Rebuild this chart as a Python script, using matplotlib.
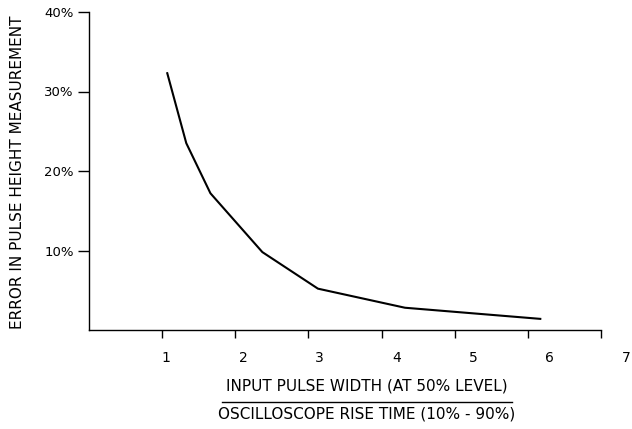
import matplotlib
matplotlib.use('Agg')
import matplotlib.pyplot as plt
import matplotlib.transforms as mtransforms
from matplotlib.lines import Line2D

# ratio of pulse width to scope rise time vs. error in measured height (%)
ratio = [1.07, 1.33, 1.66, 2.37, 3.13, 4.32, 6.17]
error_pct = [32.3, 23.5, 17.2, 9.8, 5.2, 2.8, 1.4]
x_ticks = [1, 2, 3, 4, 5, 6, 7]
y_ticks = [10, 20, 30, 40]
y_labels = ['10%', '20%', '30%', '40%']

font = 'DejaVu Sans'

fig = plt.figure(figsize=(6.32, 4.29), dpi=100)
ax = fig.add_axes([89 / 632, 99 / 429, 512 / 632, 318 / 429])

ax.plot(ratio, error_pct, color='black', lw=1.5)

ax.set_xlim(0, 7)
ax.set_ylim(0, 40)
for s in ['top', 'right']:
    ax.spines[s].set_visible(False)
for s in ['left', 'bottom']:
    ax.spines[s].set_linewidth(1.0)

ax.set_xticks(x_ticks)
ax.set_xticklabels([str(t) for t in x_ticks], family=font, fontsize=10)
ax.set_yticks(y_ticks)
ax.set_yticklabels(y_labels, family=font, fontsize=9.5)
ax.tick_params(axis='x', direction='out', length=6, width=1, pad=9)
ax.tick_params(axis='y', direction='out', length=8, width=1, pad=3)

# the scanned x labels drift a little to the right of their ticks
for i, lab in enumerate(ax.get_xticklabels()):
    off = mtransforms.ScaledTranslation((4 + 3.6 * i) / 100, 0, fig.dpi_scale_trans)
    lab.set_transform(lab.get_transform() + off)

# rotated y label
fig.text(18 / 632, 1 - 172 / 429, 'ERROR IN PULSE HEIGHT MEASUREMENT',
         rotation=90, ha='center', va='center', family=font, fontsize=11)

# fraction-style x label
fig.text(367 / 632, 1 - 386 / 429, 'INPUT PULSE WIDTH (AT 50% LEVEL)',
         ha='center', va='center', family=font, fontsize=11)
fig.add_artist(Line2D([222 / 632, 512 / 632], [1 - 402 / 429, 1 - 402 / 429],
                      color='black', lw=1.0, transform=fig.transFigure))
fig.text(367 / 632, 1 - 414 / 429, 'OSCILLOSCOPE RISE TIME (10% - 90%)',
         ha='center', va='center', family=font, fontsize=11)

fig.savefig('out.png', dpi=100, facecolor='white')
plt.close()
